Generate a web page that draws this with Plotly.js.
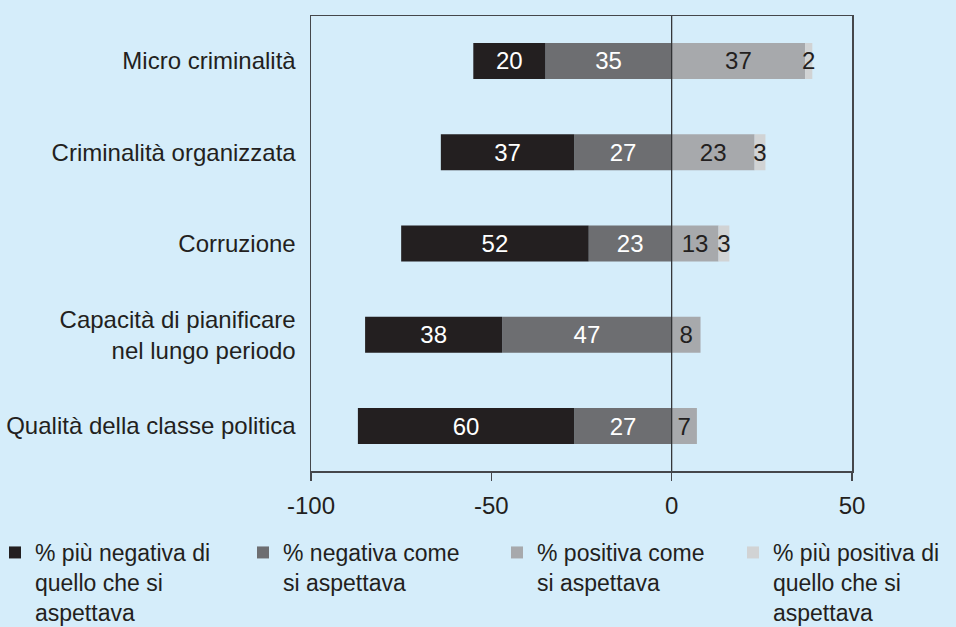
<!DOCTYPE html>
<html>
<head>
<meta charset="utf-8">
<script src="https://cdn.plot.ly/plotly-3.0.1.min.js"></script>
<style>html,body{margin:0;padding:0;background:#d5edfa;}#chart{width:956px;height:627px;}</style>
</head>
<body>
<div id="chart"></div>
<script>
// ---- data ----
const categories = [
  "Micro criminalità",
  "Criminalità organizzata",
  "Corruzione",
  "Capacità di pianificare<br>nel lungo periodo",
  "Qualità della classe politica"
];
const seriesNames = [
  "% più negativa di<br>quello che si<br>aspettava",
  "% negativa come<br>si aspettava",
  "% positiva come<br>si aspettava",
  "% più positiva di<br>quello che si<br>aspettava"
];
const moreNegative = [20, 37, 52, 38, 60];
const asNegative   = [35, 27, 23, 47, 27];
const asPositive   = [37, 23, 13, 8, 7];
const morePositive = [2, 3, 3, 0, 0];
const xTicks = [-100, -50, 0, 50];

const colors = ["#231f20", "#6d6e71", "#a7a9ac", "#d1d3d4"];
const textColors = ["#ffffff", "#ffffff", "#231f20", "#231f20"];
const FONT = "Liberation Sans, Arial, Helvetica, sans-serif";
const FS = 24;
const LFS = 23;

function lbl(arr){ return arr.map(v => v ? String(v) : ""); }

function mk(vals, sign, idx, legendId){
  return {
    type: "bar",
    orientation: "h",
    y: categories,
    x: vals.map(v => sign * v),
    name: seriesNames[idx],
    legend: legendId,
    marker: {color: colors[idx], line: {width: 0}},
    text: lbl(vals),
    textposition: "inside",
    insidetextanchor: "middle",
    textfont: {family: FONT, size: FS, color: textColors[idx]},
    hoverinfo: "skip",
    cliponaxis: false
  };
}

const tMoreNeg = mk(moreNegative, -1, 0, "legend");
const tAsNeg   = mk(asNegative, -1, 1, "legend2");
const tAsPos   = mk(asPositive, 1, 2, "legend3");
const tMorePos = mk(morePositive, 1, 3, "legend4");
// dark grey stacked first so it sits next to zero on the negative side
const data = [tAsNeg, tMoreNeg, tAsPos, tMorePos];

const W = 956, H = 627;
const L = 311, R = 852, T = 16, B = 471;
function px2x(p){ return (p - L) / (R - L); }
function py2y(p){ return (B - p) / (B - T); }

const legendBase = {
  orientation: "h",
  xanchor: "left",
  yanchor: "top",
  y: py2y(531),
  valign: "top",
  bgcolor: "rgba(0,0,0,0)",
  font: {family: FONT, size: LFS, color: "#231f20"},
  itemclick: false,
  itemdoubleclick: false
};

const axisLine = "#45474b";

const layout = {
  width: W, height: H,
  paper_bgcolor: "#d5edfa",
  plot_bgcolor: "#d5edfa",
  margin: {l: L, r: W - R, t: T, b: H - B, autoexpand: false},
  barmode: "relative",
  bargap: 0.605,
  uniformtext: {mode: "show", minsize: FS},
  font: {family: FONT, size: FS, color: "#231f20"},
  xaxis: {
    range: [-100, 50],
    tickvals: xTicks,
    ticktext: xTicks.map(String),
    showgrid: false,
    zeroline: false,
    showline: true,
    mirror: true,
    linecolor: axisLine,
    linewidth: 1.5,
    ticks: "outside",
    ticklen: 8,
    tickwidth: 1.2,
    tickcolor: axisLine,
    tickfont: {family: FONT, size: FS, color: "#231f20"},
    ticklabelstandoff: 5,
    fixedrange: true
  },
  yaxis: {
    type: "category",
    range: [4.493, -0.493],
    showgrid: false,
    zeroline: false,
    showline: true,
    mirror: true,
    linecolor: axisLine,
    linewidth: 1.5,
    ticks: "",
    tickfont: {family: FONT, size: FS, color: "#231f20"},
    ticklabelstandoff: 9,
    fixedrange: true
  },
  shapes: [{
    type: "line", xref: "x", yref: "paper",
    x0: 0, x1: 0, y0: 0, y1: 1,
    line: {color: "#2a2a2c", width: 1.2},
    layer: "above"
  }],
  showlegend: true,
  legend:  Object.assign({}, legendBase, {x: px2x(-5)}),
  legend2: Object.assign({}, legendBase, {x: px2x(243)}),
  legend3: Object.assign({}, legendBase, {x: px2x(497)}),
  legend4: Object.assign({}, legendBase, {x: px2x(733)})
};

Plotly.newPlot("chart", data, layout, {displayModeBar: false, staticPlot: true});
</script>
</body>
</html>
